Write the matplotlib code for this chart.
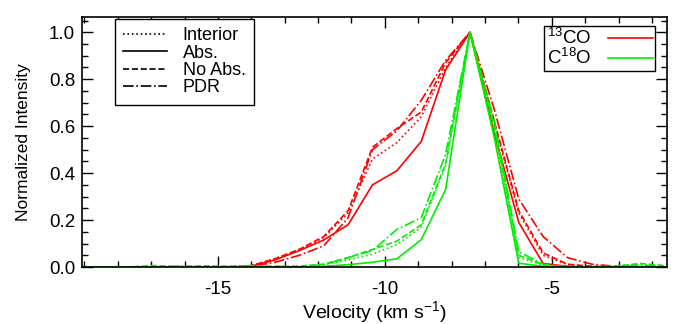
import numpy as np
import matplotlib
matplotlib.use('Agg')
from matplotlib import pyplot as plt
from matplotlib.lines import Line2D
from matplotlib.ticker import MultipleLocator, FormatStrFormatter

plt.rcParams['font.family'] = ['Liberation Sans', 'DejaVu Sans']
plt.rcParams['mathtext.fontset'] = 'custom'
plt.rcParams['mathtext.rm'] = 'Liberation Sans'
plt.rcParams['mathtext.it'] = 'Liberation Sans'
plt.rcParams['axes.unicode_minus'] = False

# velocity channels (km/s)
vel = [-19.13, -18.40, -17.67, -16.94, -16.21, -15.48, -14.75, -14.02, -13.29,
       -12.56, -11.83, -11.10, -10.37, -9.64, -8.91, -8.18, -7.45, -6.72,
       -5.99, -5.26, -4.53, -3.80, -3.07, -2.34, -1.61]

# 13CO
co13_interior = [0, 0, 0, 0, 0, 0, 0, 0.005, 0.035, 0.075, 0.125, 0.23, 0.46, 0.53,
                 0.64, 0.85, 1.0, 0.61, 0.23, 0.05, 0.01, 0.002, 0, 0, 0]
co13_abs = [0, 0, 0, 0, 0, 0, 0, 0.003, 0.03, 0.07, 0.115, 0.18, 0.35, 0.41,
            0.535, 0.84, 1.0, 0.57, 0.19, 0.015, 0.003, 0, 0, 0, 0]
co13_noabs = [0, 0, 0, 0, 0, 0, 0, 0.005, 0.035, 0.075, 0.13, 0.24, 0.51, 0.59,
              0.66, 0.87, 1.0, 0.62, 0.24, 0.06, 0.012, 0.003, 0, 0, 0]
co13_pdr = [0, 0, 0, 0, 0, 0, 0, 0.003, 0.02, 0.05, 0.09, 0.21, 0.50, 0.58,
            0.71, 0.88, 1.0, 0.67, 0.29, 0.13, 0.04, 0.012, 0.003, 0, 0]

# C18O
c18o_interior = [0, 0, 0, 0.004, 0, 0.003, 0, 0.004, 0, 0.002, 0.01, 0.03, 0.055, 0.095,
                 0.17, 0.43, 1.0, 0.58, 0.04, 0.008, 0, 0, 0.005, 0.012, 0]
c18o_abs = [0, 0, 0, 0, 0, 0, 0, 0, 0, 0, 0.003, 0.01, 0.02, 0.035,
            0.116, 0.33, 1.0, 0.55, 0.016, 0.003, 0, 0, 0, 0, 0]
c18o_noabs = [0, 0, 0, 0.006, 0.002, 0.005, 0.003, 0.006, 0.002, 0.004, 0.012, 0.04, 0.075, 0.11,
              0.18, 0.44, 1.0, 0.60, 0.05, 0.01, 0, 0, 0.004, 0.015, 0.006]
c18o_pdr = [0, 0, 0, 0, 0.004, 0, 0.002, 0, 0.003, 0, 0.01, 0.04, 0.07, 0.16,
            0.21, 0.48, 1.0, 0.62, 0.065, 0.012, 0, 0, 0, 0.008, 0]

red = '#ff0000'
green = '#00ee00'
lw = 1.2
styles = [':', '-', '--', '-.']

fig = plt.figure(figsize=(6.78, 3.24), dpi=100)
ax = fig.add_axes([82/678., 1-267/324., 585/678., 250/324.])

for y, ls in zip([co13_interior, co13_abs, co13_noabs, co13_pdr], styles):
    ax.plot(vel, y, color=red, ls=ls, lw=lw)
for y, ls in zip([c18o_interior, c18o_abs, c18o_noabs, c18o_pdr], styles):
    ax.plot(vel, y, color=green, ls=ls, lw=lw)

ax.set_xlim(-19.07, -1.55)
ax.set_ylim(0, 1.065)
ax.xaxis.set_major_locator(MultipleLocator(5))
ax.xaxis.set_minor_locator(MultipleLocator(1))
ax.yaxis.set_major_locator(MultipleLocator(0.2))
ax.yaxis.set_minor_locator(MultipleLocator(0.05))
ax.yaxis.set_major_formatter(FormatStrFormatter('%.1f'))
ax.tick_params(which='both', direction='in', top=True, right=True, labelsize=13.5, width=1)
ax.tick_params(which='major', length=8)
ax.tick_params(which='minor', length=4)
ax.tick_params(axis='x', pad=10)
ax.tick_params(axis='y', pad=5)
for s in ax.spines.values():
    s.set_linewidth(1.2)

ax.set_xlabel('Velocity (km s$^{-1}$)', fontsize=14, labelpad=1)
ax.set_ylabel('Normalized Intensity', fontsize=12.5, labelpad=13)

h1 = [Line2D([], [], color='k', ls=ls, lw=lw) for ls in styles]
leg1 = ax.legend(h1, ['Interior', 'Abs.', 'No Abs.', 'PDR'], loc='upper left',
                 bbox_to_anchor=(0.0565, 0.991), borderaxespad=0, fontsize=13,
                 fancybox=False, framealpha=1, edgecolor='k', handlelength=2.4,
                 labelspacing=0.02, borderpad=0.45, handletextpad=0.9)
leg1.get_frame().set_linewidth(1.0)
ax.add_artist(leg1)

h2 = [Line2D([], [], color=red, lw=lw), Line2D([], [], color=green, lw=lw)]
leg2 = ax.legend(h2, ['$^{13}$CO', 'C$^{18}$O'], loc='upper right',
                 bbox_to_anchor=(0.98, 0.964), borderaxespad=0, fontsize=13.5,
                 fancybox=False, framealpha=1, edgecolor='k', handlelength=2.4,
                 labelspacing=0.0, borderpad=0.12, markerfirst=False, handletextpad=0.9)
leg2.get_frame().set_linewidth(1.0)

fig.savefig('out.png', dpi=100)
plt.close(fig)
